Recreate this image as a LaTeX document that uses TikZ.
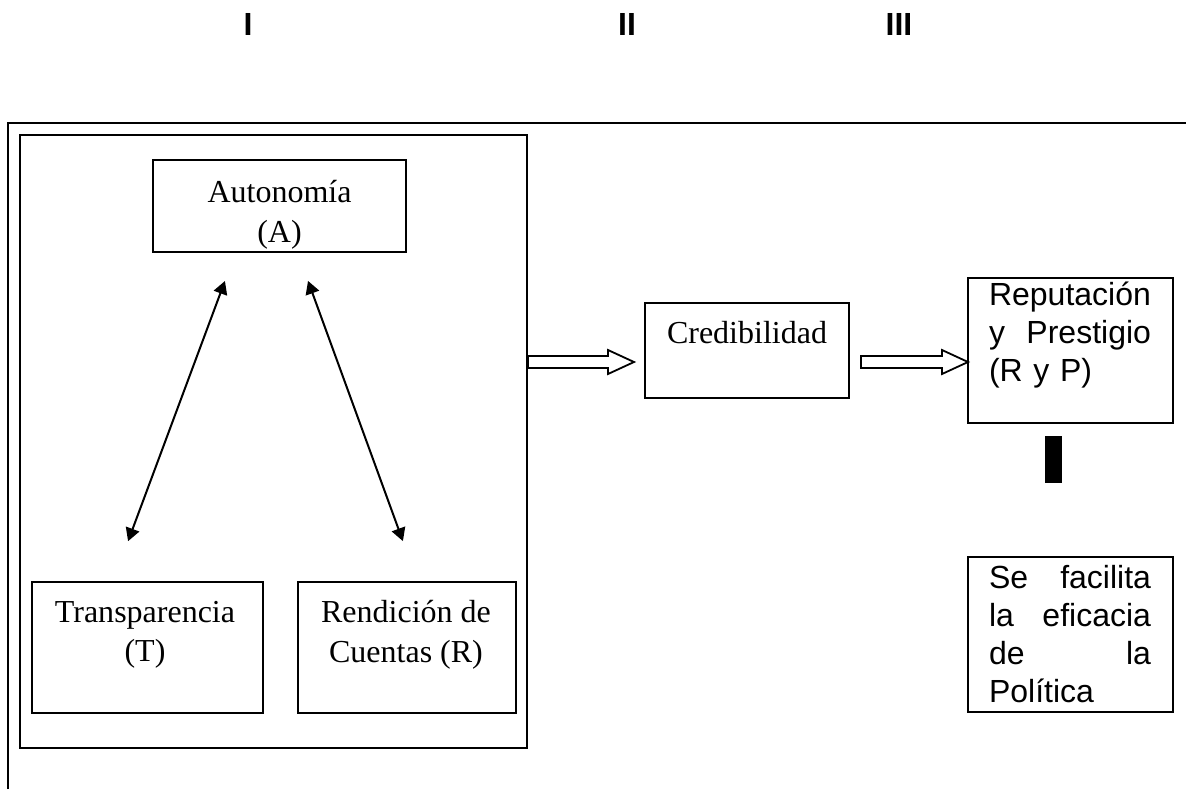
\documentclass[tikz,border=0pt]{standalone}
\usepackage{fontspec}
\setmainfont{Liberation Serif}
\newfontfamily\arialfont{Liberation Sans}
\usetikzlibrary{arrows.meta,calc}

\begin{document}
\begin{tikzpicture}[x=0.5pt, y=-0.5pt, >={Triangle[length=6.5pt,width=7pt]},
    box/.style={draw, line width=0.9pt, inner sep=0pt},
    txt/.style={align=center, inner sep=0pt, font=\fontsize{16}{19.75}\selectfont},
    sanstxt/.style={text width=81pt, align=left, inner sep=0pt, font=\arialfont\fontsize{16}{19}\selectfont},
    head/.style={font=\arialfont\bfseries\fontsize{16}{19}\selectfont},
    hollow/.style={draw, line width=0.9pt, line join=miter}]

    \useasboundingbox (0,0) rectangle (1186,789);

    % Encabezados
    \node[head] (h1) at (248,24) {I};
    \node[head] (h2) at (627,24) {II};
    \node[head] (h3) at (899,24) {III};

    % Marco exterior (solo arriba e izquierda)
    \draw[line width=1pt] (8,789) -- (8,123) -- (1186,123);

    % Recuadros
    \node[box, line width=1pt, minimum width=253.5pt, minimum height=306.5pt] (inner) at (273.5,441.5) {};
    \node[box, minimum width=126.5pt, minimum height=46pt] (auto) at (279.5,206) {};
    \node[box, minimum width=115.5pt, minimum height=65.5pt] (transp) at (147.5,647.5) {};
    \node[box, minimum width=109pt, minimum height=65.5pt] (rend) at (407,647.5) {};
    \node[box, minimum width=102pt, minimum height=47.5pt] (cred) at (747,350.5) {};
    \node[box, minimum width=102.5pt, minimum height=72.5pt] (rep) at (1070.5,350.5) {};
    \node[box, minimum width=102.5pt, minimum height=77.5pt] (efic) at (1070.5,634.5) {};
    \node[fill=black, inner sep=0pt, minimum width=8.5pt, minimum height=23.5pt] (bar) at (1053.5,459.5) {};

    % Textos
    \node[txt] (autot) at (279.5,215) {Autonomía\\(A)};
    \node[txt] (transpt) at (145,635) {Transparencia\\(T)};
    \node[txt] (rendt) at (406,635) {Rendición de\\Cuentas (R)};
    \node[txt] (credt) at (747,333) {Credibilidad};
    \node[sanstxt] (rept) at (1070,335) {Reputación\\y \hfill Prestigio\\(R y P)};
    \node[sanstxt] (efict) at (1070,634) {Se \hfill facilita\\la \hfill eficacia\\de \hfill la\\Política};

    % Flechas dobles
    \draw[<->, line width=1pt, shorten <=15pt, shorten >=21.3pt]
        ($(auto.south)+(-44.1,0)$) -- ($(transp.north)+(-34.3,0)$);
    \draw[<->, line width=1pt, shorten <=14.9pt, shorten >=21.3pt]
        ($(auto.south)+(18.3,0)$) -- ($(rend.north)+(10.5,0)$);

    % Flechas huecas
    \coordinate (s2) at (861,362);
    \draw[hollow] (inner.east |- 0,362) ++(0,-6) -- ++(80,0) -- ++(0,-6) -- ++(26,12)
        -- ++(-26,12) -- ++(0,-6) -- ++(-80,0) -- cycle;
    \draw[hollow] (s2) ++(0,-6) -- ++(81,0) -- ++(0,-6) -- ++(26,12)
        -- ++(-26,12) -- ++(0,-6) -- ++(-81,0) -- cycle;

\end{tikzpicture}
\end{document}
